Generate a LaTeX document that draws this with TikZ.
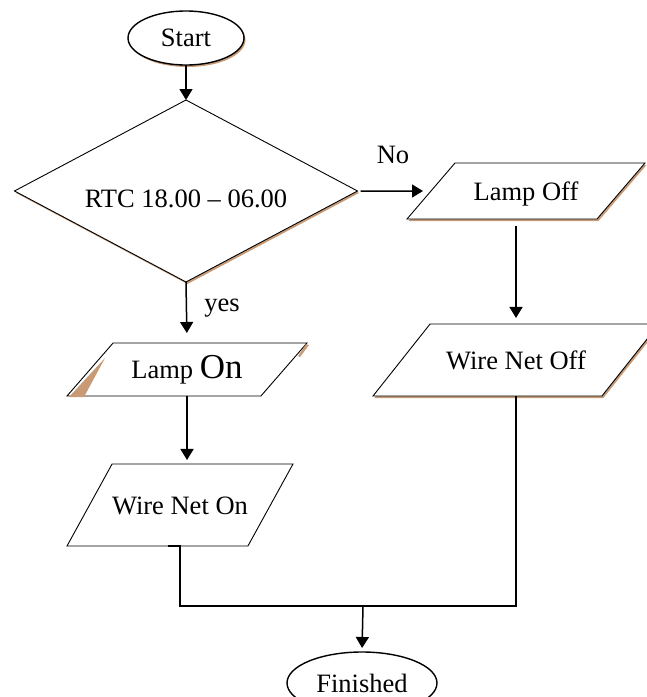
\documentclass[tikz,border=0pt]{standalone}
\usepackage{fontspec}
\setmainfont{Liberation Serif}
\usepackage{tikz}
\usetikzlibrary{arrows.meta,positioning,calc,shapes.geometric,shadows}

\definecolor{shadowtan}{RGB}{200,155,118}

\tikzset{
  tanshadow/.style={drop shadow={shadow xshift=1.5pt, shadow yshift=-2pt, fill=shadowtan, opacity=1}},
  terminal/.style={ellipse, draw, line width=1.4pt, fill=white, inner sep=0pt, outer sep=0pt},
  decision/.style={diamond, draw, line width=0.9pt, fill=white, inner sep=0pt, outer sep=0pt,
    aspect=1.885, minimum width=343pt, minimum height=182pt},
  % height of an io box is fixed through text height/depth so the slant keeps its angle
  iobox/.style={trapezium, draw, line width=0.9pt, fill=white, inner sep=0pt, outer sep=0pt,
    trapezium stretches body=true},
  flow/.style={line width=1.5pt, -{Triangle[length=11pt,width=13pt]}},
  joint/.style={line width=1.5pt},
}

\begin{document}
\begin{tikzpicture}[x=1pt,y=-1pt,font=\fontsize{26.5}{30}\selectfont]
  \clip (0,0) rectangle (647,697);

  % start, test and end
  \node[terminal, tanshadow, minimum width=116pt, minimum height=54pt] (start) at (186,38) {Start};
  \node[decision, tanshadow] (rtc) at (186,191) {\raisebox{-8pt}[\height][\depth]{RTC 18.00 – 06.00}};
  \node[terminal, minimum width=150pt, minimum height=62pt] (finish) at (362,683) {Finished};

  % lamp and wire net boxes
  \node[iobox, tanshadow, trapezium left angle=49.4, trapezium right angle=130.6,
    minimum width=238pt, text height=37pt, text depth=19pt] (lampoff) at (526,191) {Lamp Off};
  \node[iobox, tanshadow, trapezium left angle=51.6, trapezium right angle=128.4,
    minimum width=286pt, text height=45pt, text depth=27pt] (wireoff) at (516,360) {Wire Net Off};
  \node[iobox, trapezium left angle=49, trapezium right angle=131,
    minimum width=240pt, text height=35.5pt, text depth=17.5pt] (lampon) at (187,369.5) {Lamp {\fontsize{35}{40}\selectfont On}};
  \node[iobox, trapezium left angle=61.2, trapezium right angle=118.8,
    minimum width=226pt, text height=50pt, text depth=32pt] (wireon) at (180,505) {Wire Net On};

  % odd shadow bits on the lamp on box
  \fill[shadowtan] (105,358) -- (69,397) -- (84,397) -- cycle;
  \fill[shadowtan] (306,344) -- (309,345) -- (300,357) -- (298,356) -- cycle;

  % branch labels
  \node (nolabel) at (393,155) {No};
  \node (yeslabel) at (222,308) {yes};

  % connectors
  \coordinate (merge) at (363,606);
  \draw[flow] (start.south) -- (rtc.north);
  \draw[flow, shorten <=3pt, shorten >=8pt] (rtc.east) -- (lampoff.west);
  \draw[flow, shorten >=10pt] (rtc.south) -- (lampon.north);
  \draw[flow, shorten >=4pt] (lampon.south) -- (lampon.south |- wireon.north);
  \draw[flow, shorten <=7pt, shorten >=6pt] (wireoff.north |- lampoff.south) -- (wireoff.north);
  \draw[joint] ($(wireon.south)+(-12,0)$) -- (wireon.south) |- (merge);
  \draw[joint] (wireoff.south) |- (merge);
  \draw[flow, shorten >=4pt] (merge) -- (finish.north);
\end{tikzpicture}
\end{document}
